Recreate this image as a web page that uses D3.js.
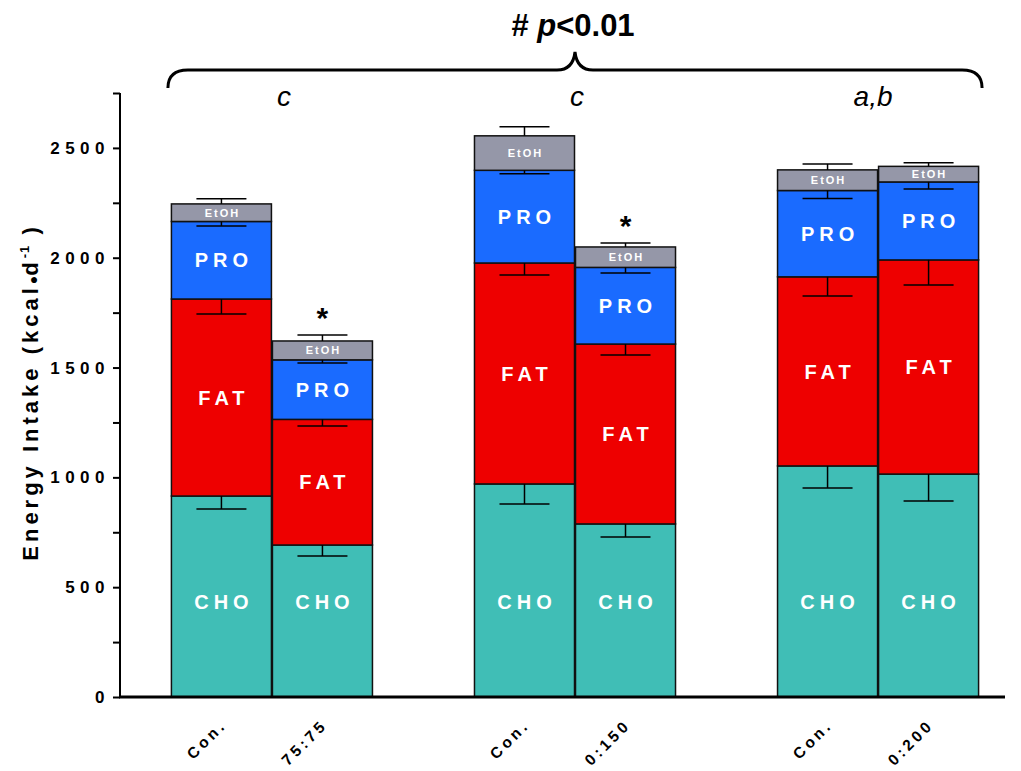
<!DOCTYPE html>
<html>
<head>
<meta charset="utf-8">
<script src="https://cdn.jsdelivr.net/npm/d3@7"></script>
<style>
  body { margin: 0; background: #fff; }
  svg { font-family: "Liberation Sans", Arial, sans-serif; }
</style>
</head>
<body>
<svg width="1021" height="771"></svg>
<script>
// bars in plot order, two per group
const groups = ['g1', 'g2', 'g3'];
const barNames = ['Con.', '75:75', 'Con.', '0:150', 'Con.', '0:200'];
const cho  = [915, 692, 970, 788, 1052, 1015];
const fat  = [897, 572, 1006, 819, 861, 975];
const pro  = [353, 271, 422, 349, 393, 355];
const etoh = [80, 86, 157, 93, 94, 71];
const choErr  = [59, 50, 91, 59, 100, 123];
const fatErr  = [68, 30, 55, 50, 87, 114];
const proErr  = [20, 14, 16, 25, 36, 32];
const etohErr = [23, 27, 41, 18, 27, 16];
const groupLetters = ['c', 'c', 'a,b'];
const starred = [false, true, false, true, false, false];
const yTicks = [0, 500, 1000, 1500, 2000, 2500];

const keys = ['CHO', 'FAT', 'PRO', 'EtOH'];
const colors = { CHO: '#40beb6', FAT: '#ee0000', PRO: '#1a6bff', EtOH: '#9597a8' };
const errs = { CHO: choErr, FAT: fatErr, PRO: proErr, EtOH: etohErr };

const rows = barNames.map((n, i) => ({
    idx: i, group: groups[Math.floor(i / 2)], pos: i % 2,
    CHO: cho[i], FAT: fat[i], PRO: pro[i], EtOH: etoh[i]
}));

const svg = d3.select('svg');

const y = d3.scaleLinear().domain([0, 2750]).range([697, 93]);
const x0 = d3.scaleBand().domain(groups).range([120, 1030])
    .paddingInner(1 / 3).paddingOuter(0.168);
const x1 = d3.scaleBand().domain([0, 1]).range([0, x0.bandwidth()]).padding(0);

const barX = d => x0(d.group) + x1(d.pos);
const barC = d => barX(d) + x1.bandwidth() / 2;

const series = d3.stack().keys(keys)(rows);

// bars
const layer = svg.append('g').selectAll('g').data(series).join('g')
    .attr('fill', s => colors[s.key]);

layer.selectAll('rect').data(s => s).join('rect')
    .attr('x', d => barX(d.data) + 0.5)
    .attr('width', x1.bandwidth() - 1)
    .attr('y', d => y(d[1]))
    .attr('height', d => y(d[0]) - y(d[1]))
    .attr('stroke', '#111')
    .attr('stroke-width', 1.5);

// error bars: down inside for lower segments, up for the top one
const eb = svg.append('g').attr('stroke', '#000').attr('stroke-width', 1.5);
series.forEach(s => {
    const dir = s.key === 'EtOH' ? 1 : -1;
    s.forEach(d => {
        const e = errs[s.key][d.data.idx];
        const cx = barC(d.data);
        const y1 = y(d[1]), y2 = y(d[1] + dir * e);
        eb.append('line').attr('x1', cx).attr('x2', cx).attr('y1', y1).attr('y2', y2);
        eb.append('line').attr('x1', cx - 25).attr('x2', cx + 25).attr('y1', y2).attr('y2', y2);
    });
});

// segment labels
const labelG = svg.append('g').attr('fill', '#fff').attr('font-weight', 'bold')
    .attr('text-anchor', 'middle');
series.forEach(s => {
    s.forEach(d => {
        let ly = y((d[0] + d[1]) / 2);
        let size = 20, ls = 5;
        if (s.key === 'CHO') ly = y(432);
        if (s.key === 'EtOH') { size = 11; ls = 2; }
        labelG.append('text')
            .attr('x', barC(d.data) + ls / 2)
            .attr('y', ly)
            .attr('dy', '0.36em')
            .attr('font-size', size)
            .attr('letter-spacing', ls)
            .text(s.key);
    });
});

// stars over bars
const topOf = d => d.EtOH + d.PRO + d.FAT + d.CHO + etohErr[d.idx];
svg.append('g').selectAll('text').data(rows.filter(d => starred[d.idx])).join('text')
    .attr('x', d => barC(d))
    .attr('y', d => y(topOf(d)) - 7)
    .attr('text-anchor', 'middle')
    .attr('font-size', 30)
    .attr('font-weight', 'bold')
    .text('*');

// y axis
const yAxis = svg.append('g').attr('transform', 'translate(120,0)')
    .call(d3.axisLeft(y).tickValues(d3.range(0, 2751, 250)).tickSize(7).tickFormat(''));
yAxis.select('.domain').attr('stroke-width', 2).attr('d', 'M0,93V697');
yAxis.selectAll('.tick line').attr('stroke-width', 2);

svg.append('g').selectAll('text').data(yTicks).join('text')
    .attr('x', 110)
    .attr('y', d => y(d))
    .attr('dy', '0.36em')
    .attr('text-anchor', 'end')
    .attr('font-size', 17)
    .attr('font-weight', 'bold')
    .attr('letter-spacing', 5.5)
    .text(d => d);

// x axis line
svg.append('line').attr('x1', 119).attr('x2', 1005).attr('y1', 697).attr('y2', 697)
    .attr('stroke', '#000').attr('stroke-width', 3);

// x labels
svg.append('g').selectAll('text').data(rows).join('text')
    .attr('transform', d => `translate(${barC(d) + 6},726) rotate(-45)`)
    .attr('text-anchor', 'end')
    .attr('font-size', 15.5)
    .attr('font-weight', 'bold')
    .attr('letter-spacing', 3.5)
    .text(d => barNames[d.idx]);

// y title
const yt = svg.append('text')
    .attr('transform', 'translate(38,392) rotate(-90)')
    .attr('text-anchor', 'middle')
    .attr('font-size', 22)
    .attr('font-weight', 'bold')
    .attr('letter-spacing', 4);
yt.append('tspan').text('Energy Intake (kcal');
yt.append('tspan').attr('font-size', 14).attr('letter-spacing', 0).text('\u25CF');
yt.append('tspan').text('d');
yt.append('tspan').attr('dy', -9).attr('font-size', 13).attr('letter-spacing', 1).text('-1');
yt.append('tspan').attr('dy', 9).text(' )');

// brace over groups + test
const gc = groups.map(g => x0(g) + x0.bandwidth() / 2);
const bl = x0(groups[0]) - 3, br = x0(groups[2]) + x0.bandwidth() + 3, bm = gc[1];
svg.append('path')
    .attr('d', `M${bl},88 Q${bl},70 ${bl + 20},70 L${bm - 18},70 Q${bm - 2},70 ${bm},52 ` +
        `Q${bm + 2},70 ${bm + 18},70 L${br - 20},70 Q${br},70 ${br},88`)
    .attr('fill', 'none').attr('stroke', '#000').attr('stroke-width', 3);

const title = svg.append('text').attr('x', bm - 2).attr('y', 36)
    .attr('text-anchor', 'middle').attr('font-size', 31).attr('font-weight', 'bold');
title.append('tspan').text('# ');
title.append('tspan').attr('font-style', 'italic').text('p');
title.append('tspan').text('<0.01');

svg.append('g').selectAll('text').data(groupLetters).join('text')
    .attr('x', (d, i) => gc[i] + [12, 2, -5][i])
    .attr('y', 106)
    .attr('text-anchor', 'middle')
    .attr('font-size', 28)
    .attr('font-style', 'italic')
    .text(d => d);
</script>
</body>
</html>
